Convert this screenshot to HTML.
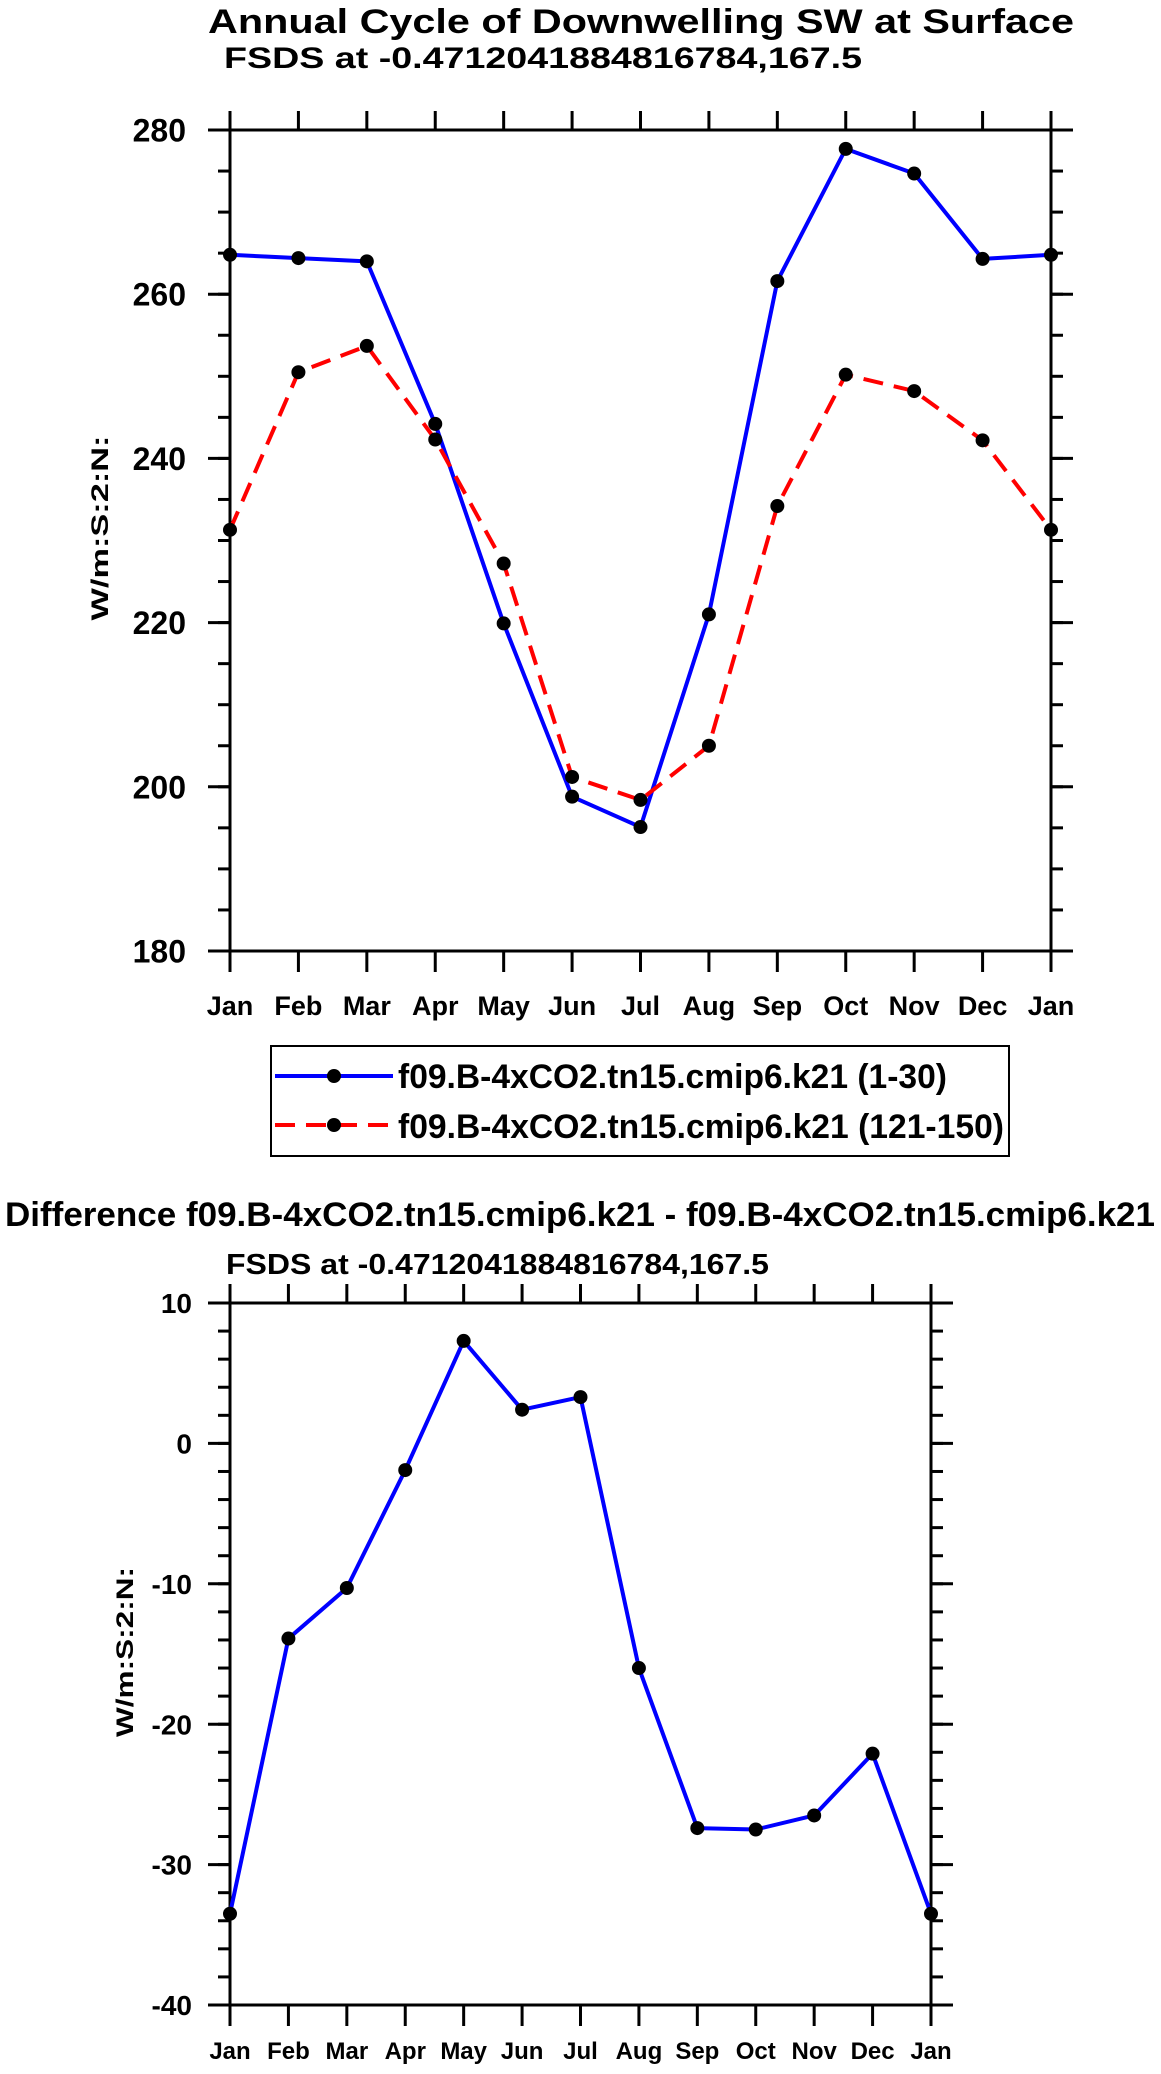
<!DOCTYPE html>
<html><head><meta charset="utf-8"><style>
html,body{margin:0;padding:0;background:#fff;}
svg text{font-family:"Liberation Sans",sans-serif;font-weight:bold;fill:#000;}
</style></head><body>
<svg id="chart" width="1161" height="2069" viewBox="0 0 1161 2069" xmlns="http://www.w3.org/2000/svg">
<text x="641" y="33" font-size="34" text-anchor="middle" textLength="866" lengthAdjust="spacingAndGlyphs">Annual Cycle of Downwelling SW at Surface</text>
<text x="224" y="68" font-size="30" textLength="638" lengthAdjust="spacingAndGlyphs">FSDS at -0.4712041884816784,167.5</text>
<g id="topPanel"></g>
<g>
<rect x="271" y="1046" width="738" height="110" fill="none" stroke="#000" stroke-width="2"/>
<g>
<line x1="275" y1="1076" x2="393" y2="1076" stroke="#0000ff" stroke-width="4"/>
<circle cx="334" cy="1076" r="7" fill="#000"/>
<text x="398" y="1088" font-size="34" textLength="549" lengthAdjust="spacingAndGlyphs">f09.B-4xCO2.tn15.cmip6.k21 (1-30)</text>
</g>
<g>
<line x1="275" y1="1125" x2="393" y2="1125" stroke="#ff0000" stroke-width="4" stroke-dasharray="20,11"/>
<circle cx="334" cy="1125" r="7" fill="#000"/>
<text x="398" y="1138" font-size="34" textLength="606" lengthAdjust="spacingAndGlyphs">f09.B-4xCO2.tn15.cmip6.k21 (121-150)</text>
</g>
</g>
<text x="580" y="1226" font-size="34" text-anchor="middle" textLength="1150" lengthAdjust="spacingAndGlyphs">Difference f09.B-4xCO2.tn15.cmip6.k21 - f09.B-4xCO2.tn15.cmip6.k21</text>
<text x="226" y="1274" font-size="29" textLength="543" lengthAdjust="spacingAndGlyphs">FSDS at -0.4712041884816784,167.5</text>
<g id="botPanel"></g>
</svg>
<script>
const months = ["Jan","Feb","Mar","Apr","May","Jun","Jul","Aug","Sep","Oct","Nov","Dec","Jan"];
const run1Values = [264.8,264.4,264.0,244.2,219.9,198.8,195.1,221.0,261.6,277.7,274.7,264.3,264.8];
const run2Values = [231.3,250.5,253.7,242.3,227.2,201.2,198.4,205.0,234.2,250.2,248.2,242.2,231.3];
const diffValues = [-33.5,-13.9,-10.3,-1.9,7.3,2.4,3.3,-16.0,-27.4,-27.5,-26.5,-22.1,-33.5];
const topYTicks = [180,200,220,240,260,280];
const botYTicks = [-40,-30,-20,-10,0,10];

const NS="http://www.w3.org/2000/svg";
function mk(parent,tag,attrs){const e=document.createElementNS(NS,tag);for(const k in attrs)e.setAttribute(k,attrs[k]);parent.appendChild(e);return e;}

function drawPanel(g,cfg){
  const {x0,x1,y0,y1,ymin,ymax,yticks,minorStep,ylabelX,ylabelSize,monthFont,monthY,ylabTitleX,ylabTitleY,ylabLen}=cfg;
  const xs=i=>x0+(x1-x0)*i/(months.length-1);
  const ys=v=>y1-(y1-y0)*(v-ymin)/(ymax-ymin);
  const frame=mk(g,'rect',{x:x0,y:y0,width:x1-x0,height:y1-y0,fill:'none',stroke:'#000','stroke-width':3});
  
  
  months.forEach((m,i)=>{
    const x=xs(i);
    mk(g,'line',{x1:x,y1:y1,x2:x,y2:y1+21,stroke:'#000','stroke-width':3});
    mk(g,'line',{x1:x,y1:y0,x2:x,y2:y0-19,stroke:'#000','stroke-width':3});
    const t=mk(g,'text',{x:x,y:monthY,'font-size':monthFont,'text-anchor':'middle'});
    t.textContent=m;
    
    
  });
  for(let v=ymin;v<=ymax+1e-6;v+=minorStep){
    const y=ys(v);
    mk(g,'line',{x1:x0,y1:y,x2:x0-12,y2:y,stroke:'#000','stroke-width':3});
    mk(g,'line',{x1:x1,y1:y,x2:x1+12,y2:y,stroke:'#000','stroke-width':3});
  }
  yticks.forEach(v=>{
    const y=ys(v);
    mk(g,'line',{x1:x0,y1:y,x2:x0-22,y2:y,stroke:'#000','stroke-width':3});
    mk(g,'line',{x1:x1,y1:y,x2:x1+22,y2:y,stroke:'#000','stroke-width':3});
    const t=mk(g,'text',{x:ylabelX,y:y+ylabelSize*0.36,'font-size':ylabelSize,'text-anchor':'end'});
    t.textContent=String(v);
    
    
  });
  const yl=mk(g,'text',{x:ylabTitleX,y:ylabTitleY,'font-size':24,'text-anchor':'middle',textLength:ylabLen,lengthAdjust:'spacingAndGlyphs',transform:`rotate(-90 ${ylabTitleX} ${ylabTitleY})`});
  yl.textContent='W/m:S:2:N:';
  
  
  return {xs,ys};
}
function drawSeries(g,vals,xs,ys,color,dash,name){
  const pl=mk(g,'polyline',{points:vals.map((v,i)=>xs(i)+','+ys(v)).join(' '),fill:'none',stroke:color,'stroke-width':4,'stroke-linejoin':'round'});
  if(dash) pl.setAttribute('stroke-dasharray',dash);
  
  
  vals.forEach((v,i)=>{
    const c=mk(g,'circle',{cx:xs(i),cy:ys(v),r:7,fill:'#000'});
    
    
  });
}
const topG=document.getElementById('topPanel');
const A=drawPanel(topG,{x0:230,x1:1051,y0:130,y1:951,ymin:180,ymax:280,yticks:topYTicks,minorStep:5,ylabelX:186,ylabelSize:32,monthFont:27,monthY:1015,ylabTitleX:108,ylabTitleY:528,ylabLen:185});
drawSeries(topG,run1Values,A.xs,A.ys,'#0000ff',null,'run-1-30');
drawSeries(topG,run2Values,A.xs,A.ys,'#ff0000','20,11','run-121-150');
const botG=document.getElementById('botPanel');
const B=drawPanel(botG,{x0:230,x1:931,y0:1303,y1:2005,ymin:-40,ymax:10,yticks:botYTicks,minorStep:2,ylabelX:192,ylabelSize:28,monthFont:24,monthY:2059,ylabTitleX:133,ylabTitleY:1652,ylabLen:170});
drawSeries(botG,diffValues,B.xs,B.ys,'#0000ff',null,'difference');
</script>
</body></html>
